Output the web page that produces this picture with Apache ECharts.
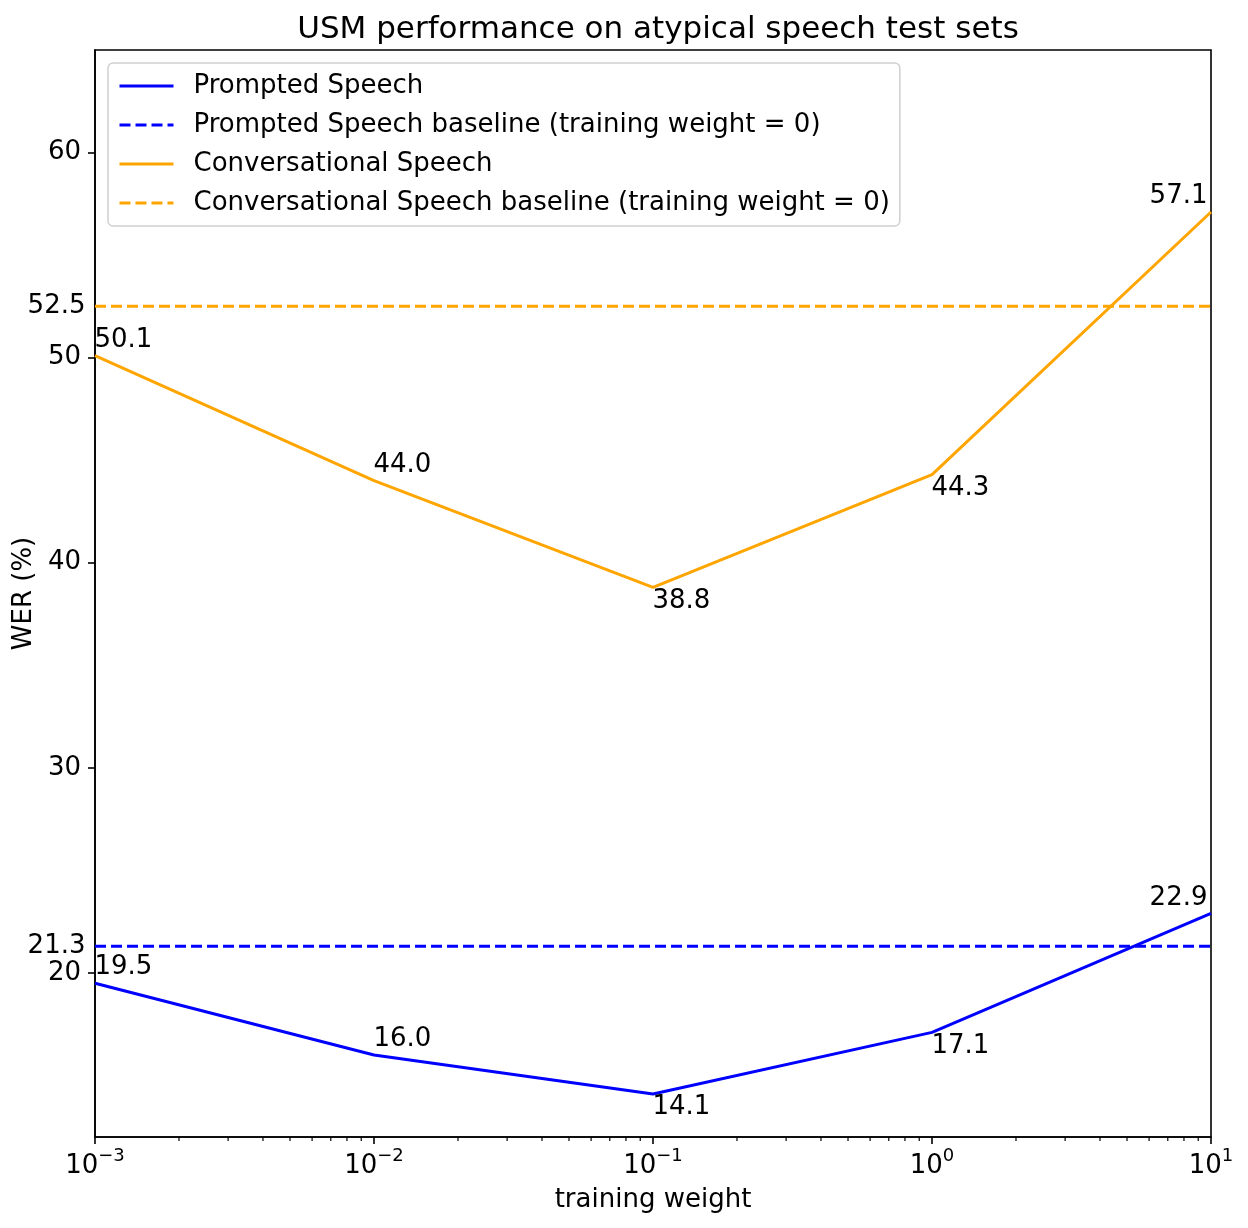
<!DOCTYPE html>
<html>
<head>
<meta charset="utf-8">
<script src="https://cdn.jsdelivr.net/npm/echarts@6/dist/echarts.min.js"></script>
<style>
  html, body { margin: 0; padding: 0; background: #fff; }
  #chart { width: 1248px; height: 1228px; }
</style>
</head>
<body>
<div id="chart"></div>
<script>
// data
const trainingWeights = [0.001, 0.01, 0.1, 1, 10];
const promptedWer = [19.5, 16.0, 14.1, 17.1, 22.9];
const conversationalWer = [50.1, 44.0, 38.8, 44.3, 57.1];
const promptedBaseline = 21.3;
const conversationalBaseline = 52.5;
const yTicks = [20, 30, 40, 50, 60];
const xTicks = [0.001, 0.01, 0.1, 1, 10];

// matplotlib style minor ticks on the log axis (2..9 x 10^k)
const minorXTicks = [];
for (let e = -3; e < 1; e++) {
  for (let k = 2; k <= 9; k++) minorXTicks.push(k * Math.pow(10, e));
}

const FONT = 'DejaVu Sans';
const FS = 26;
const BLUE = '#0000ff';
const ORANGE = '#ffa500';
const Y_MIN = 12, Y_MAX = 65;

// where each point's value label sits: above for the first two, below for the
// middle ones, above and right aligned on the last one
function pointLabel(x, y, i) {
  let label;
  if (i === 4) {
    label = { align: 'right', verticalAlign: 'bottom', offset: [-3, -2] };
  } else if (i === 2 || i === 3) {
    label = { align: 'left', verticalAlign: 'top', offset: [0, 1] };
  } else {
    label = { align: 'left', verticalAlign: 'bottom', offset: [0, -2] };
  }
  label.show = true;
  label.position = [0, 0];
  label.color = '#000';
  label.formatter = y.toFixed(1);
  return { value: [x, y], label: label };
}

const annotations = [];
trainingWeights.forEach((x, i) => {
  annotations.push(pointLabel(x, promptedWer[i], i));
  annotations.push(pointLabel(x, conversationalWer[i], i));
});
[promptedBaseline, conversationalBaseline].forEach(v => {
  annotations.push({
    value: [xTicks[0], v],
    label: { show: true, position: 'left', distance: 9, color: '#000', formatter: String(v) }
  });
});

function supLabel(v) {
  const e = Math.round(Math.log10(v));
  return '{b|10}{sup|' + (e < 0 ? '\u2212' + (-e) : e) + '}';
}

let myChart = echarts.init(document.getElementById('chart'));
myChart.setOption({
  animation: false,
  backgroundColor: '#fff',
  textStyle: { fontFamily: FONT, color: '#000' },
  title: {
    text: 'USM performance on atypical speech test sets',
    left: 653,
    top: 9,
    textAlign: 'center',
    textStyle: { fontFamily: FONT, fontSize: 31, fontWeight: 'normal', color: '#000' }
  },
  grid: {
    left: 95, right: 37, top: 50, bottom: 91,
    show: true, borderColor: '#000', borderWidth: 1.6, backgroundColor: 'transparent'
  },
  legend: {
    orient: 'vertical',
    left: 108, top: 63,
    padding: [8, 10, 8, 10],
    itemWidth: 54, itemHeight: 14, itemGap: 9,
    backgroundColor: 'rgba(255,255,255,0.8)',
    borderColor: '#d0d0d0', borderWidth: 1.5, borderRadius: 5,
    itemStyle: { color: 'rgba(0,0,0,0)', borderWidth: 0, opacity: 0 },
    lineStyle: { width: 3 },
    textStyle: { fontFamily: FONT, fontSize: FS, lineHeight: 30, color: '#000', padding: [0, 0, 0, 15] },
    data: [
      'Prompted Speech',
      'Prompted Speech baseline (training weight = 0)',
      'Conversational Speech',
      'Conversational Speech baseline (training weight = 0)'
    ]
  },
  xAxis: {
    type: 'log', logBase: 10,
    min: 0.001, max: 10,
    name: 'training weight',
    nameLocation: 'middle', nameGap: 50,
    nameTextStyle: { fontFamily: FONT, fontSize: FS, color: '#000' },
    axisLine: { lineStyle: { color: '#000', width: 1.6 } },
    axisTick: { show: true, length: 7, lineStyle: { color: '#000', width: 1.6 }, customValues: xTicks },
    splitLine: { show: false },
    minorTick: { show: false },
    axisLabel: {
      customValues: xTicks,
      margin: 10,
      color: '#000',
      formatter: supLabel,
      rich: {
        b: { fontFamily: FONT, fontSize: FS, lineHeight: 32, verticalAlign: 'bottom', color: '#000' },
        sup: { fontFamily: FONT, fontSize: 18, lineHeight: 32, verticalAlign: 'top', color: '#000' }
      }
    }
  },
  yAxis: {
    type: 'value',
    min: Y_MIN, max: Y_MAX,
    name: 'WER (%)',
    nameLocation: 'middle', nameGap: 56, nameRotate: 90,
    nameTextStyle: { fontFamily: FONT, fontSize: FS, color: '#000' },
    axisLine: { show: true, lineStyle: { color: '#000', width: 1.6 } },
    axisTick: { show: true, length: 7, lineStyle: { color: '#000', width: 1.6 }, customValues: yTicks },
    splitLine: { show: false },
    axisLabel: {
      customValues: yTicks,
      margin: 14,
      fontFamily: FONT, fontSize: FS, color: '#000'
    }
  },
  series: [
    {
      name: 'Prompted Speech',
      type: 'line',
      data: trainingWeights.map((x, i) => [x, promptedWer[i]]),
      symbol: 'none',
      color: BLUE,
      lineStyle: { color: BLUE, width: 3 }
    },
    {
      name: 'Prompted Speech baseline (training weight = 0)',
      type: 'line',
      data: [[xTicks[0], promptedBaseline], [xTicks[xTicks.length - 1], promptedBaseline]],
      symbol: 'none',
      color: BLUE,
      lineStyle: { color: BLUE, width: 3, type: [11, 5] }
    },
    {
      name: 'Conversational Speech',
      type: 'line',
      data: trainingWeights.map((x, i) => [x, conversationalWer[i]]),
      symbol: 'none',
      color: ORANGE,
      lineStyle: { color: ORANGE, width: 3 }
    },
    {
      name: 'Conversational Speech baseline (training weight = 0)',
      type: 'line',
      data: [[xTicks[0], conversationalBaseline], [xTicks[xTicks.length - 1], conversationalBaseline]],
      symbol: 'none',
      color: ORANGE,
      lineStyle: { color: ORANGE, width: 3, type: [11, 5] }
    },
    {
      name: 'annotations',
      type: 'scatter',
      data: annotations,
      symbolSize: 1,
      itemStyle: { color: 'rgba(0,0,0,0)', opacity: 1 },
      label: { fontFamily: FONT, fontSize: FS, color: '#000' },
      silent: true,
      z: 5
    },
    {
      name: 'minor ticks',
      type: 'custom',
      data: minorXTicks.map(v => [v, Y_MIN]),
      silent: true,
      renderItem: function (params, api) {
        const p = api.coord([api.value(0), api.value(1)]);
        return {
          type: 'line',
          shape: { x1: p[0], y1: p[1], x2: p[0], y2: p[1] + 4 },
          style: { stroke: '#000', lineWidth: 1.2 }
        };
      }
    }
  ]
});
</script>
</body>
</html>
